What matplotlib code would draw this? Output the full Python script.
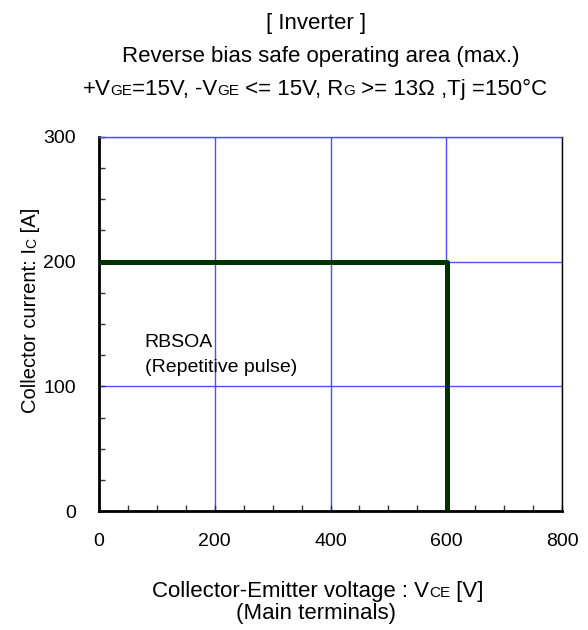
import matplotlib
matplotlib.use("Agg")
import matplotlib.pyplot as plt
from matplotlib.transforms import IdentityTransform
from matplotlib.ticker import MultipleLocator

plt.rcParams['font.family'] = ['Liberation Sans', 'DejaVu Sans']

# RBSOA boundary (max.)
vce = [0, 602, 602]
ic = [200, 200, 0]

x_ticks = [0, 200, 400, 600, 800]
y_ticks = [0, 100, 200, 300]

BIG = 16
SMALL = 11
TICK = 14
YLAB = 14.5

fig = plt.figure(figsize=(5.88, 6.30), dpi=100)
ax = fig.add_axes([99 / 588, 1 - 511 / 630, 463 / 588, 374 / 630])

ax.plot(vce, ic, color='#003300', lw=3.6, solid_capstyle='butt', zorder=3)
ax.set_xlim(0, 800)
ax.set_ylim(0, 300)
ax.set_xticks(x_ticks)
ax.set_yticks(y_ticks)
ax.xaxis.set_minor_locator(MultipleLocator(50))
ax.yaxis.set_minor_locator(MultipleLocator(25))
ax.tick_params(which='both', direction='in', length=4, width=1, color='#333333',
               labelsize=TICK, top=False, right=False)
ax.tick_params(axis='x', pad=16)
ax.tick_params(axis='y', pad=16.5)
ax.grid(True, which='major', color='#4d4dff', lw=1)
for s in ['left', 'bottom']:
    ax.spines[s].set_linewidth(2)
ax.spines['right'].set_linewidth(1)
ax.spines['top'].set_color('#4d4dff')
ax.spines['top'].set_linewidth(1)

ax.text(79, 131.5, 'RBSOA', fontsize=14, va='baseline', ha='left')
ax.text(79, 111.5, '(Repetitive pulse)', fontsize=14, va='baseline', ha='left')

fig.canvas.draw()
renderer = fig.canvas.get_renderer()


def seg_text(cx, cy, parts, rot=0):
    # parts: list of (text, size); drawn side by side, centred on (cx, cy) pixels
    texts = []
    lengths = []
    for s, size in parts:
        t = fig.text(0, 0, s, fontsize=size, transform=IdentityTransform(),
                     ha='left', va='baseline', rotation=rot, rotation_mode='anchor')
        bb = t.get_window_extent(renderer)
        lengths.append(bb.height if rot else bb.width)
        texts.append(t)
    total = sum(lengths)
    pos = -total / 2
    for t, L in zip(texts, lengths):
        if rot:
            t.set_position((cx, cy + pos))
        else:
            t.set_position((cx + pos, cy))
        pos += L


H = 630
seg_text(316, H - 29, [('[ Inverter ]', BIG)])
seg_text(321, H - 62, [('Reverse bias safe operating area (max.)', BIG)])
seg_text(315, H - 95, [('+V', BIG), ('GE', SMALL), ('=15V, -V', BIG), ('GE', SMALL),
                       (' <= 15V, R', BIG), ('G', SMALL),
                       (' >= 13Ω ,Tj =150°C', BIG)])
seg_text(318, H - 597, [('Collector-Emitter voltage : V', BIG), ('CE', SMALL),
                       (' [V]', BIG)])
seg_text(316, H - 619, [('(Main terminals)', BIG)])
seg_text(36, H - 310, [('Collector current: I', YLAB), ('C', 10), (' [A]', YLAB)], rot=90)

fig.savefig('out.png', dpi=100)
